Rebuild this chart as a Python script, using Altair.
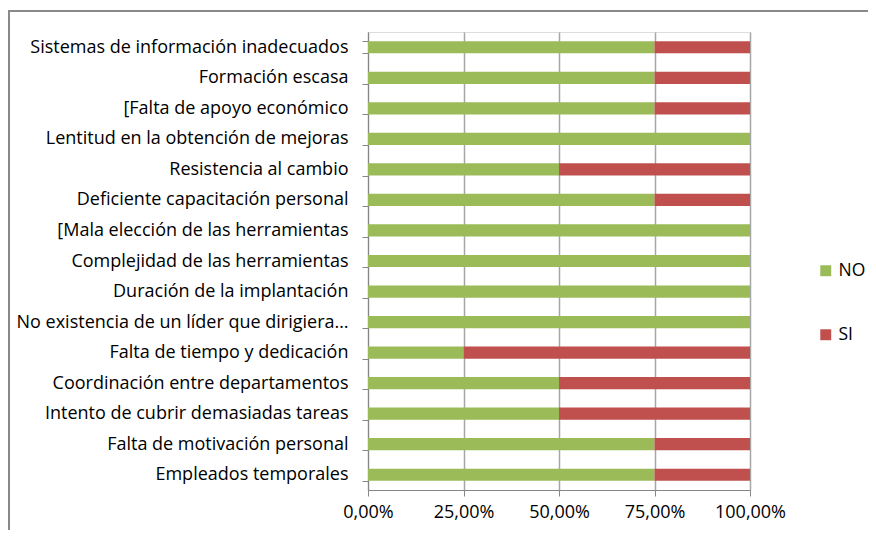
import altair as alt
import pandas as pd

categories = [
    "Sistemas de información inadecuados",
    "Formación escasa",
    "[Falta de apoyo económico",
    "Lentitud en la obtención de mejoras",
    "Resistencia al cambio",
    "Deficiente capacitación personal",
    "[Mala elección de las herramientas",
    "Complejidad de las herramientas",
    "Duración de la implantación",
    "No existencia de un líder que dirigiera…",
    "Falta de tiempo y dedicación",
    "Coordinación entre departamentos",
    "Intento de cubrir demasiadas tareas",
    "Falta de motivación personal",
    "Empleados temporales",
]
no_values = [0.75, 0.75, 0.75, 1.0, 0.5, 0.75, 1.0, 1.0, 1.0, 1.0, 0.25, 0.5, 0.5, 0.75, 0.75]
si_values = [0.25, 0.25, 0.25, 0.0, 0.5, 0.25, 0.0, 0.0, 0.0, 0.0, 0.75, 0.5, 0.5, 0.25, 0.25]
series = ["NO", "SI"]
colors = ["#9BBB59", "#C0504D"]
x_ticks = [0, 0.25, 0.5, 0.75, 1.0]

rows = []
for c, n, s in zip(categories, no_values, si_values):
    rows.append({"cat": c, "serie": "NO", "val": n, "ord": 0})
    rows.append({"cat": c, "serie": "SI", "val": s, "ord": 1})
df = pd.DataFrame(rows)

FONT = "Open Sans"

bars = alt.Chart(df).mark_bar().encode(
    y=alt.Y("cat:N", sort=categories, title=None,
            scale=alt.Scale(paddingInner=0.6, paddingOuter=0.3),
            axis=alt.Axis(tickBand="extent", labelFontSize=18, labelFont=FONT,
                          labelColor="#000000", labelPadding=14, tickSize=6,
                          tickColor="#868686", domainColor="#868686",
                          labelLimit=400, grid=False)),
    x=alt.X("val:Q", stack="zero", title=None,
            scale=alt.Scale(domain=[0, 1], nice=False),
            axis=alt.Axis(values=x_ticks, labelExpr="replace(format(datum.value, '.2%'), '.', ',')",
                          labelFontSize=18, labelFont=FONT, labelColor="#000000",
                          labelFlush=False, labelOverlap=False,
                          labelPadding=7, tickSize=6, tickColor="#868686",
                          domainColor="#868686", grid=True, gridColor="#A6A6A6",
                          gridWidth=1.5)),
    color=alt.Color("serie:N", scale=alt.Scale(domain=series, range=colors),
                    legend=alt.Legend(title=None, orient="none", legendX=449, legendY=230,
                                      symbolType="square", symbolSize=120, rowPadding=45,
                                      labelFontSize=17.5, labelFont=FONT, labelColor="#000000",
                                      symbolStrokeWidth=0)),
    order=alt.Order("ord:Q"),
)

frame_left = alt.Chart(df).mark_rule(color="#898989", strokeWidth=2).encode(
    x=alt.value(-359), y=alt.value(-21), y2=alt.value(600)
)
frame_top = alt.Chart(df).mark_rule(color="#898989", strokeWidth=2).encode(
    x=alt.value(-360), x2=alt.value(700), y=alt.value(-21)
)

chart = alt.layer(bars, frame_left, frame_top).properties(
    width=382, height=458,
    autosize=alt.AutoSizeParams(type="none"),
    padding={"left": 360, "top": 24, "right": 118, "bottom": 40},
).configure_view(stroke=None).configure(background="white")

chart.save("out.html", embed_options={"renderer": "svg", "actions": False})
